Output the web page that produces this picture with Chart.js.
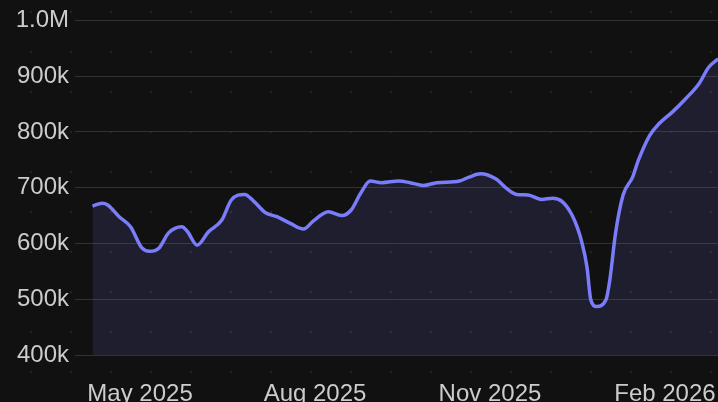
<!DOCTYPE html>
<html>
<head>
<meta charset="utf-8">
<script src="https://cdn.jsdelivr.net/npm/chart.js@4"></script>
<style>
  html, body { margin: 0; padding: 0; background: #111111; }
  #c { display: block; }
</style>
</head>
<body>
<canvas id="c" width="718" height="402"></canvas>
<script>
// data
const dates = [
  '2025-04-06','2025-04-11','2025-04-14','2025-04-20','2025-04-26','2025-05-02','2025-05-06','2025-05-11',
  '2025-05-16','2025-05-23','2025-05-26','2025-05-31','2025-06-06','2025-06-13','2025-06-18','2025-06-25',
  '2025-06-30','2025-07-06','2025-07-12','2025-07-19','2025-07-26','2025-07-31','2025-08-08','2025-08-15',
  '2025-08-20','2025-08-25','2025-08-30','2025-09-05','2025-09-14','2025-09-20','2025-09-27','2025-10-04',
  '2025-10-16','2025-10-21','2025-10-27','2025-11-04','2025-11-10','2025-11-15','2025-11-21','2025-11-28',
  '2025-12-04','2025-12-09','2025-12-14','2025-12-17','2025-12-19','2025-12-22','2025-12-24','2025-12-27',
  '2026-01-01','2026-01-03','2026-01-06','2026-01-10','2026-01-15','2026-01-18','2026-01-24','2026-01-29',
  '2026-02-05','2026-02-12','2026-02-19','2026-02-24','2026-03-01'
];
const values = [
  667000, 672000, 669000, 648000, 630000, 592000, 586000, 592000,
  619000, 630000, 621000, 597000, 621000, 642000, 678000, 688000,
  675000, 655000, 648000, 636000, 626000, 640000, 657000, 650000,
  660000, 690000, 712000, 709000, 712000, 709000, 704000, 709000,
  712000, 719000, 725000, 716000, 698000, 688000, 687000, 679000,
  681000, 675000, 652000, 628000, 606000, 558000, 499000, 487000,
  499000, 534000, 618000, 687000, 719000, 749000, 794000, 815000,
  836000, 860000, 887000, 916000, 931000
];
const tickDates = ['2025-05-01', '2025-08-01', '2025-11-01', '2026-02-01'];
const tickLabels = ['May 2025', 'Aug 2025', 'Nov 2025', 'Feb 2026'];

const BASE = Date.parse('2025-05-01');
const dayOf = d => (Date.parse(d) - BASE) / 864e5;

const points = dates.map((d, i) => ({ x: dayOf(d), y: values[i] }));
const tickDays = tickDates.map(dayOf);

const FONT = "'Liberation Sans', Arial, Helvetica, sans-serif";
const TEXT = '#cccccc';

// dark background with faint dot grid
const dotBackground = {
  id: 'dotBackground',
  beforeDraw(chart) {
    const { ctx, width, height } = chart;
    ctx.save();
    ctx.fillStyle = '#111111';
    ctx.fillRect(0, 0, width, height);
    ctx.fillStyle = '#242424';
    for (let x = 31; x < width; x += 40) {
      for (let y = 12; y < height; y += 40) {
        ctx.fillRect(x - 1, y - 1, 2, 2);
      }
    }
    ctx.restore();
  }
};

new Chart(document.getElementById('c'), {
  type: 'line',
  plugins: [dotBackground],
  data: {
    datasets: [{
      data: points,
      borderColor: '#7a7cfa',
      backgroundColor: 'rgba(122, 124, 250, 0.13)',
      borderWidth: 3.5,
      fill: 'start',
      pointRadius: 0,
      cubicInterpolationMode: 'monotone'
    }]
  },
  options: {
    responsive: false,
    animation: false,
    devicePixelRatio: 1,
    layout: { padding: { top: 20, right: 0, left: 0, bottom: 0 } },
    plugins: { legend: { display: false }, tooltip: { enabled: false } },
    scales: {
      x: {
        type: 'linear',
        min: -34.2,
        max: 303.9,
        grid: { display: false },
        border: { display: false },
        afterBuildTicks: scale => { scale.ticks = tickDays.map(v => ({ value: v })); },
        afterFit: scale => {
          scale.height = 47;
          scale.paddingLeft = 0;
          scale.paddingRight = 0;
        },
        ticks: {
          color: TEXT,
          font: { family: FONT, size: 24 },
          padding: 17,
          maxRotation: 0,
          autoSkip: false,
          callback: v => tickLabels[tickDays.indexOf(v)]
        }
      },
      y: {
        min: 400000,
        max: 1000000,
        grid: { color: '#323232', lineWidth: 1, drawTicks: false },
        border: { display: false },
        afterFit: scale => { scale.width = 75; },
        ticks: {
          stepSize: 100000,
          color: TEXT,
          font: { family: FONT, size: 24 },
          padding: 6,
          callback: v => v >= 1000000 ? (v / 1000000).toFixed(1) + 'M' : (v / 1000) + 'k'
        }
      }
    }
  }
});
</script>
</body>
</html>
